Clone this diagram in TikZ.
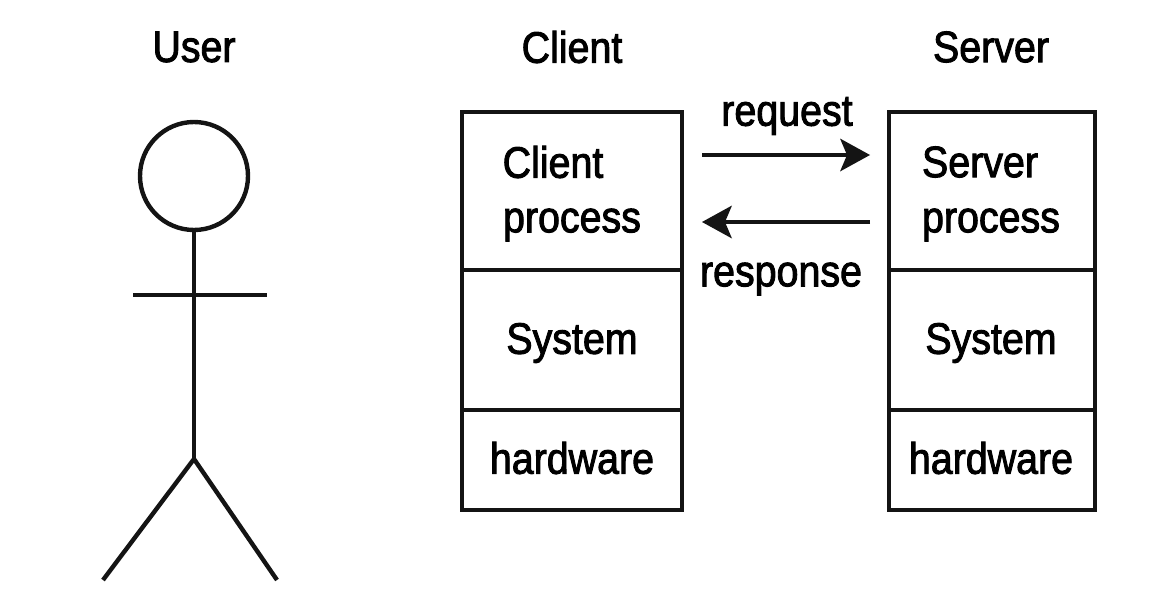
\documentclass[tikz,border=0pt]{standalone}
\usepackage{fontspec}
\setmainfont[FakeBold=2.2]{Liberation Sans}
\usetikzlibrary{arrows.meta}
\tikzset{
 lab/.style={font=\fontsize{44pt}{46pt}\selectfont,inner sep=0pt,xscale=0.895},
 fig/.style={line width=4.4pt,black!92},
 boxx/.style={draw=black!92,line width=4.4pt,fill=none,inner sep=0pt},
 arr/.style={line width=4.6pt,black!92,-{Stealth[length=30pt,width=33pt,inset=7pt,line width=0pt]}}
}
\begin{document}
\begin{tikzpicture}[x=1pt,y=-1pt]
\useasboundingbox (0,0) rectangle (1168,594);
\node[lab] (tu) at (194,47) {User};
\node[lab] (tc) at (572,47) {Client};
\node[lab] (ts) at (991,47) {Server};
% stick figure
\node[draw=black!92,line width=4.4pt,circle,minimum size=108pt,inner sep=0pt] (head) at (194,176) {};
\coordinate (hip) at (194,459);
\coordinate (lf) at (103,580);
\coordinate (rf) at (277,580);
\coordinate (al) at (133,295);
\coordinate (ar) at (267,295);
\draw[fig] (head.south) -- (hip);
\draw[fig] (al) -- (ar);
\draw[fig] (lf) -- (hip) -- (rf);
% client
\node[boxx,minimum width=220pt,minimum height=158pt] (c1) at (572,191) {};
\node[boxx,minimum width=220pt,minimum height=140pt] (c2) at (572,340) {};
\node[boxx,minimum width=220pt,minimum height=100pt] (c3) at (572,460) {};
\node[lab] (c1a) at (553,162) {Client};
\node[lab] (c1b) at (572,225) {process};
\node[lab] (c2a) at (572,343) {System};
\node[lab] (c3a) at (572,458) {hardware};
% server
\node[boxx,minimum width=206pt,minimum height=158pt] (s1) at (992,191) {};
\node[boxx,minimum width=206pt,minimum height=140pt] (s2) at (992,340) {};
\node[boxx,minimum width=206pt,minimum height=100pt] (s3) at (992,460) {};
\node[lab] (s1a) at (980,162) {Server};
\node[lab] (s1b) at (991,225) {process};
\node[lab] (s2a) at (991,343) {System};
\node[lab] (s3a) at (991,458) {hardware};
% arrows
\coordinate (r1) at (702,155);
\coordinate (r2) at (870,155);
\coordinate (q1) at (870,222);
\coordinate (q2) at (702,222);
\draw[arr] (r1) -- (r2);
\draw[arr] (q1) -- (q2);
\node[lab] (req) at (787,116) {request};
\node[lab] (res) at (781,279) {response};
\end{tikzpicture}
\end{document}
